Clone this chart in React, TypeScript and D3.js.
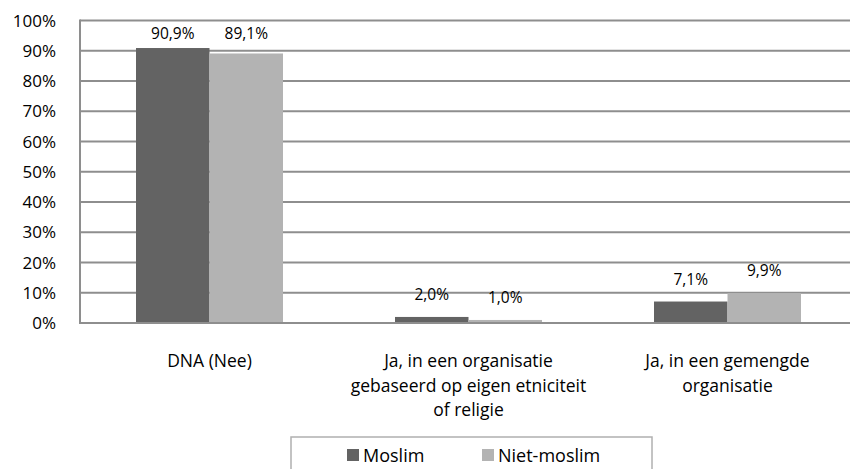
import React from "react";
import * as d3 from "d3";

const categories: string[][] = [
  ["DNA (Nee)"],
  ["Ja, in een organisatie", "gebaseerd op eigen etniciteit", "of religie"],
  ["Ja, in een gemengde", "organisatie"],
];
const seriesNames = ["Moslim", "Niet-moslim"];
const moslim = [90.9, 2.0, 7.1];
const nietMoslim = [89.1, 1.0, 9.9];
const yTicks = [0, 10, 20, 30, 40, 50, 60, 70, 80, 90, 100];
const colors = ["#636363", "#b3b3b3"];

const W = 850;
const H = 469;
const FONT = "'Open Sans', sans-serif";

export default function App() {
  const left = 80;
  const right = 857;
  const top = 20.5;
  const bottom = 323;
  const y = d3.scaleLinear().domain([0, 100]).range([bottom, top]);
  const x = d3.scaleBand<number>().domain([0, 1, 2]).range([left, right]).padding(0);
  const inner = d3
    .scaleBand<number>()
    .domain([0, 1])
    .range([56, x.bandwidth() - 56])
    .padding(0);
  const series = [moslim, nietMoslim];
  const fmt = (v: number) => v.toFixed(1).replace(".", ",") + "%";

  return (
    <svg
      width={W}
      height={H}
      style={{ position: "absolute", left: 0, top: 0, background: "#fff" }}
      fontFamily={FONT}
    >
      {yTicks.map((t) => (
        <g key={t}>
          <line x1={left} x2={W} y1={y(t)} y2={y(t)} stroke="#8e8e8e" strokeWidth={2} />
          <text x={56} y={y(t) + 6} textAnchor="end" fontSize={17} fill="#000">
            {t}%
          </text>
        </g>
      ))}
      <line x1={left} x2={left} y1={top - 1} y2={bottom + 1} stroke="#8e8e8e" strokeWidth={2} />
      {series.map((vals, si) =>
        vals.map((v, ci) => {
          const bx = (x(ci) as number) + (inner(si) as number);
          const bw = inner.bandwidth();
          const by = y(v);
          const ly = Math.max(by - 17, 39);
          return (
            <g key={`${si}-${ci}`}>
              <rect x={bx} y={by} width={bw} height={bottom - by} fill={colors[si]} />
              <text x={bx + bw / 2} y={ly} textAnchor="middle" fontSize={15.5} fill="#000">
                {fmt(v)}
              </text>
            </g>
          );
        })
      )}
      <line x1={left} x2={W} y1={bottom} y2={bottom} stroke="#8e8e8e" strokeWidth={2} />
      {categories.map((lines, ci) => (
        <text
          key={ci}
          x={(x(ci) as number) + x.bandwidth() / 2}
          textAnchor="middle"
          fontSize={17.5}
          fill="#000"
        >
          {lines.map((l, li) => (
            <tspan key={li} x={(x(ci) as number) + x.bandwidth() / 2} y={367 + li * 24.5}>
              {l}
            </tspan>
          ))}
        </text>
      ))}
      <rect x={291} y={437} width={361} height={60} fill="#fff" stroke="#b0b0b0" strokeWidth={1.5} />
      {seriesNames.map((n, i) => {
        const lx = i === 0 ? 347 : 482;
        return (
          <g key={n}>
            <rect x={lx} y={449} width={12} height={12} fill={colors[i]} />
            <text x={lx + 16} y={462} fontSize={18} fill="#000">
              {n}
            </text>
          </g>
        );
      })}
    </svg>
  );
}
